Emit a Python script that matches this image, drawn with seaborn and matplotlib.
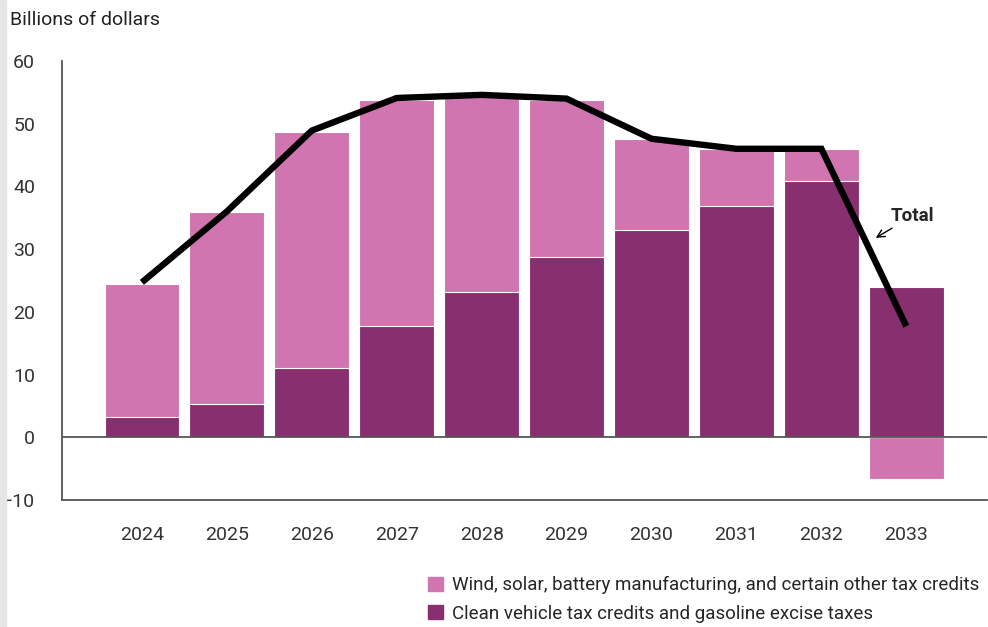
import numpy as np
import pandas as pd
import matplotlib.pyplot as plt
import seaborn as sns
from matplotlib.patches import Patch, Rectangle

# ----- data (billions of dollars) -----
years = ['2024', '2025', '2026', '2027', '2028', '2029', '2030', '2031', '2032', '2033']
clean_vehicle = [3.3, 5.3, 11.1, 17.7, 23.1, 28.8, 33.0, 36.8, 40.8, 24.0]
wind_solar = [21.2, 30.7, 37.6, 36.1, 31.5, 25.0, 14.5, 9.2, 5.2, -6.7]
total = [24.7, 36.0, 48.9, 54.1, 54.6, 54.0, 47.6, 46.0, 46.0, 17.7]

light = '#d175b0'
dark = '#88306f'

df = pd.DataFrame({'year': years, 'clean': clean_vehicle, 'wind': wind_solar})
# light segment sits on top of the dark one when positive, below zero when negative
df['wind_top'] = [c + w if w > 0 else w for c, w in zip(clean_vehicle, wind_solar)]

sns.set_style('white')
plt.rcParams['font.family'] = ['Roboto', 'DejaVu Sans']

fig = plt.figure(figsize=(9.88, 6.27), dpi=100)
ax = fig.add_axes([0.0628, 0.2026, 0.9362, 0.7001])
fig.patches.append(Rectangle((0, 0), 0.006, 1, transform=fig.transFigure,
                             color='#e6e6e6', zorder=0))

sns.barplot(data=df, x='year', y='wind_top', order=years, color=light,
            width=0.88, saturation=1, edgecolor='white', linewidth=0.8, ax=ax)
sns.barplot(data=df, x='year', y='clean', order=years, color=dark,
            width=0.88, saturation=1, edgecolor='white', linewidth=0.8, ax=ax)

ax.axhline(0, color='#555555', lw=1.3, zorder=3)
ax.plot(np.arange(len(years)), total, color='black', lw=4.6,
        solid_capstyle='butt', solid_joinstyle='miter', zorder=4)

ax.annotate('Total', xy=(8.64, 31.8), xytext=(8.82, 35.3),
            fontsize=13.5, fontweight='bold', ha='left', va='center',
            arrowprops=dict(arrowstyle='->', color='black', lw=1,
                            shrinkA=0, shrinkB=0))

ax.set_xlim(-0.94, 9.95)
ax.set_ylim(-10, 60)
ax.set_yticks(range(-10, 61, 10))
ax.set_xlabel('')
ax.set_ylabel('')
ax.tick_params(axis='both', direction='in', length=7, width=1.2,
               color='#555555', labelsize=14, labelcolor='#333333')
ax.tick_params(axis='y', pad=19.5)
ax.tick_params(axis='x', pad=19)
for lab in ax.get_yticklabels():
    lab.set_horizontalalignment('right')

sns.despine(ax=ax, top=True, right=True)
ax.spines['left'].set_color('#555555')
ax.spines['bottom'].set_color('#555555')
ax.spines['left'].set_linewidth(1.3)
ax.spines['bottom'].set_linewidth(1.3)

fig.text(0.010, 0.968, 'Billions of dollars', fontsize=14, color='#222222',
         ha='left', va='center')

handles = [Patch(color=light, label='Wind, solar, battery manufacturing, and certain other tax credits'),
           Patch(color=dark, label='Clean vehicle tax credits and gasoline excise taxes')]
fig.legend(handles=handles, loc='upper left', bbox_to_anchor=(0.433, 0.081),
           frameon=False, fontsize=13.5, handlelength=0.8, handleheight=0.8,
           handletextpad=0.5, labelspacing=0.55, borderaxespad=0, borderpad=0)

fig.savefig('out.png', dpi=100)
